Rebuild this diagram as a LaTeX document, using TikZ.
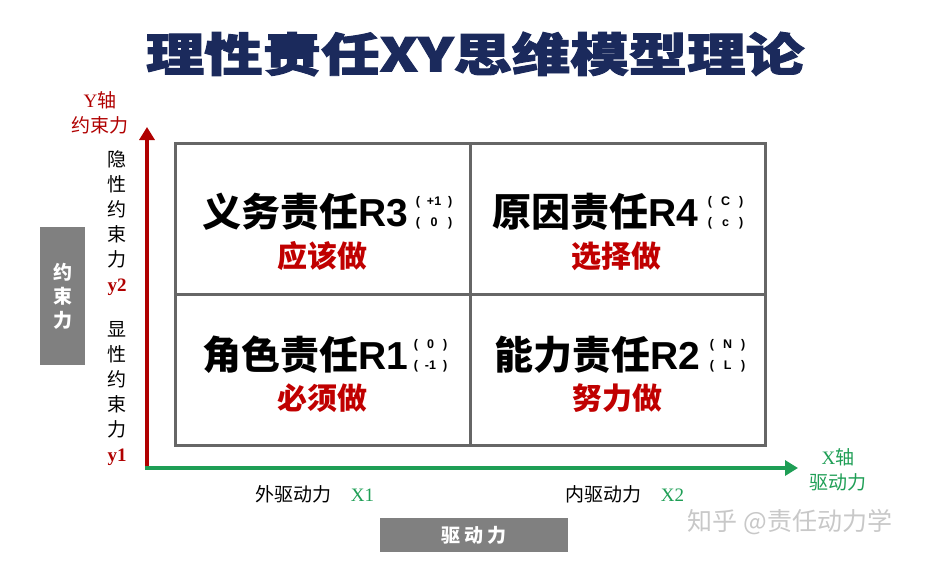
\documentclass[tikz,border=0pt]{standalone}
\usepackage{graphicx}
\usepackage{fontspec}
\setmainfont{Liberation Serif}
\newfontfamily\cjk{Noto Sans CJK SC}
\newfontfamily\cjkheavy[FakeBold=2]{Noto Sans CJK SC}
\newfontfamily\arial{Liberation Sans}
\usetikzlibrary{positioning,arrows.meta}
\definecolor{titlenavy}{HTML}{1B2A5C}
\definecolor{axisred}{HTML}{B00000}
\definecolor{axisgreen}{HTML}{1E9E55}
\definecolor{taskred}{HTML}{C00000}
\definecolor{gridgray}{HTML}{666666}
\definecolor{boxgray}{HTML}{808080}
\definecolor{markgray}{HTML}{C8C8C8}

\begin{document}
\begin{tikzpicture}[x=1pt, y=-1pt,
      every node/.append style={inner sep=0pt, outer sep=0pt},
      axis/.style={line width=4pt, -{Triangle[length=13pt,width=15pt]}}]
    \tikzstyle{role} = [font=\cjk\bfseries\fontsize{39}{39}\selectfont, anchor=west]
    \tikzstyle{pair} = [font=\arial\bfseries\fontsize{12.5}{21}\selectfont]
    \tikzstyle{task} = [font=\cjk\bfseries\fontsize{30}{30}\selectfont, text=taskred]
    \tikzstyle{label} = [font=\cjk\fontsize{19}{25}\selectfont, align=center]
    \tikzstyle{graybox} = [fill=boxgray, text=white, font=\cjk\bfseries\fontsize{19}{24}\selectfont, align=center]
    \useasboundingbox (0,0) rectangle (926,563);
    % title
    \node (title) [font=\cjkheavy\bfseries\fontsize{46}{46}\selectfont, text=titlenavy] at (475,54)
      {\scalebox{1.27}[1]{理性责任XY思维模型理论}};
    % quadrant grid
    \node (grid) [draw=gridgray, line width=3pt, minimum width=590pt, minimum height=302pt] at (470,294) {};
    \draw[gridgray, line width=3pt] (grid.north) -- (grid.south);
    \draw[gridgray, line width=3pt] (grid.west) -- (grid.east);
    % axes
    \coordinate (O) at (147,468);
    \coordinate (ytop) at (147,127);
    \coordinate (xend) at (798,468);
    \draw[axis, axisred] (O) -- (ytop);
    \draw[axis, axisgreen] ([xshift=-2pt]O) -- (xend);
    % quadrants
    \node (R3) [role] at (202,212) {义务责任{\arial R3}};
    \node (R3v) [pair, right=8pt of R3] {\begin{tabular}{@{}c@{\ \ }c@{\ \ }c@{}}(&+1&)\\(&0&)\end{tabular}};
    \node (R3t) [task] at (322,256) {应该做};
    \node (R4) [role] at (492,212) {原因责任{\arial R4}};
    \node (R4v) [pair, right=10pt of R4] {\begin{tabular}{@{}c@{\ \ \,}c@{\ \ \,}c@{}}(&C&)\\(&c&)\end{tabular}};
    \node (R4t) [task] at (616,256) {选择做};
    \node (R1) [role] at (202,355) {角色责任{\arial R1}};
    \node (R1v) [pair, right=6pt of R1] {\begin{tabular}{@{}c@{\ \ }c@{\ \ }c@{}}(&0&)\\(&-1&)\end{tabular}};
    \node (R1t) [task] at (322,398) {必须做};
    \node (R2) [role] at (494,355) {能力责任{\arial R2}};
    \node (R2v) [pair, right=10pt of R2] {\begin{tabular}{@{}c@{\ \ \,}c@{\ \ \,}c@{}}(&N&)\\(&L&)\end{tabular}};
    \node (R2t) [task] at (617,398) {努力做};
    % y axis labels
    \node (yname) [label, text=axisred] at (100,113) {{\rmfamily\fontsize{19}{19}\selectfont Y}轴\\约束力};
    \node (y2) [label] at (117,223) {隐\\性\\约\\束\\力\\{\rmfamily\color{axisred}\bfseries y2}};
    \node (y1) [label] at (117,394) {显\\性\\约\\束\\力\\{\rmfamily\color{axisred}\bfseries y1}};
    \node (ybox) [graybox, minimum width=45pt, minimum height=138pt] at (62.5,296) {约\\束\\力};
    % x axis labels
    \node (xname) [label, text=axisgreen] at (838,470) {{\rmfamily\fontsize{19}{19}\selectfont X}轴\\驱动力};
    \node (x1) [label] at (315,494) {外驱动力\quad{\rmfamily\color{axisgreen}X1}};
    \node (x2) [label] at (625,494) {内驱动力\quad{\rmfamily\color{axisgreen}X2}};
    \node (xbox) [graybox, minimum width=188pt, minimum height=34pt] at (474,535) {驱\ 动\ 力};
    \node (mark) [font=\cjk\fontsize{25}{25}\selectfont, text=markgray] at (790,522) {知乎 @责任动力学};
\end{tikzpicture}
\end{document}
